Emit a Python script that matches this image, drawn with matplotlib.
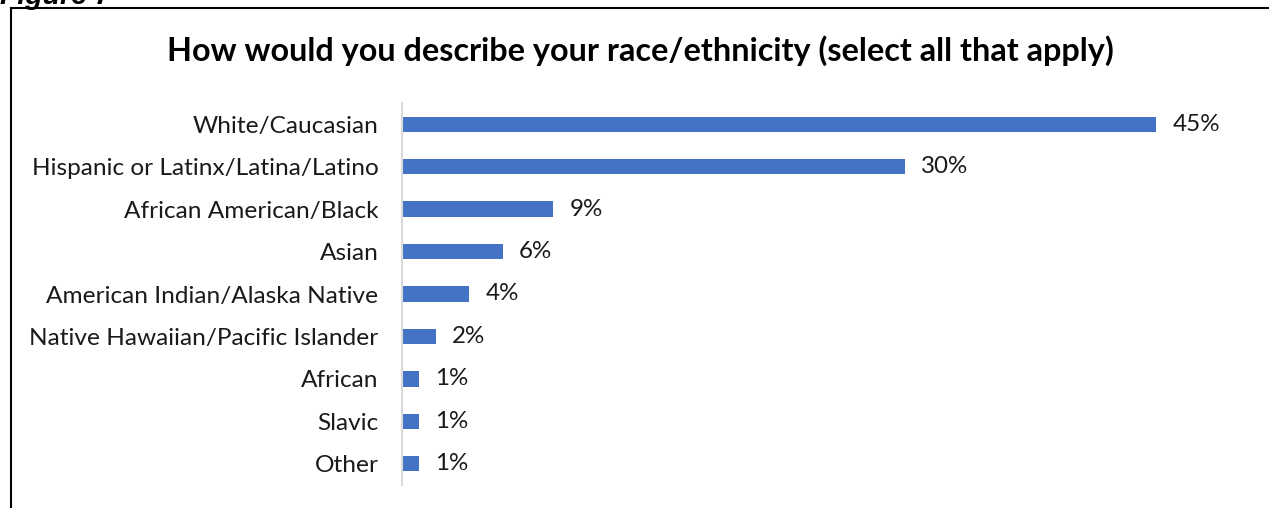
import matplotlib
matplotlib.use("Agg")
import matplotlib.pyplot as plt
from matplotlib.lines import Line2D

categories = ["White/Caucasian", "Hispanic or Latinx/Latina/Latino", "African American/Black",
              "Asian", "American Indian/Alaska Native", "Native Hawaiian/Pacific Islander",
              "African", "Slavic", "Other"]
values = [45, 30, 9, 6, 4, 2, 1, 1, 1]
title = "How would you describe your race/ethnicity (select all that apply)"

plt.rcParams['font.family'] = ['Lato', 'DejaVu Sans']

W, H = 1269, 508
fig = plt.figure(figsize=(W / 100, H / 100), dpi=100)

left, right = 402, 1240
top, bottom = 103, 485
ax = fig.add_axes([left / W, 1 - bottom / H, (right - left) / W, (bottom - top) / H])

ypos = list(range(len(categories)))
ax.barh(ypos, values, height=0.36, color="#4472C4")
ax.set_xlim(0, 50)
ax.set_ylim(len(categories) - 0.5, -0.5)
ax.set_yticks(ypos)
ax.set_yticklabels(categories, fontsize=17.6, color="#1a1a1a")
ax.tick_params(axis='y', length=0, pad=17)
ax.set_xticks([])
for s in ["top", "right", "bottom"]:
    ax.spines[s].set_visible(False)
ax.spines["left"].set_color("#d9d9d9")
ax.spines["left"].set_linewidth(1.5)

for y, v in zip(ypos, values):
    ax.annotate(f"{v}%", xy=(v, y), xytext=(12, 0), textcoords="offset points",
                va="center", ha="left", fontsize=17.4, color="#1a1a1a")

fig.text(640 / W, 1 - 51 / H, title, ha="center", va="center", fontsize=23.3,
         fontweight="bold", color="black")

fig.text(0, 1 - 4 / H, "Figure 7", ha="left", va="baseline", fontsize=20.5,
         fontweight="bold", style="italic", family=["Liberation Sans", "DejaVu Sans"])

fig.add_artist(Line2D([11 / W, 11 / W], [0, 1 - 8 / H], transform=fig.transFigure,
                      color="black", linewidth=1.5))
fig.add_artist(Line2D([11 / W, 1], [1 - 8 / H, 1 - 8 / H], transform=fig.transFigure,
                      color="black", linewidth=1.5))

fig.savefig("out.png", dpi=100)
